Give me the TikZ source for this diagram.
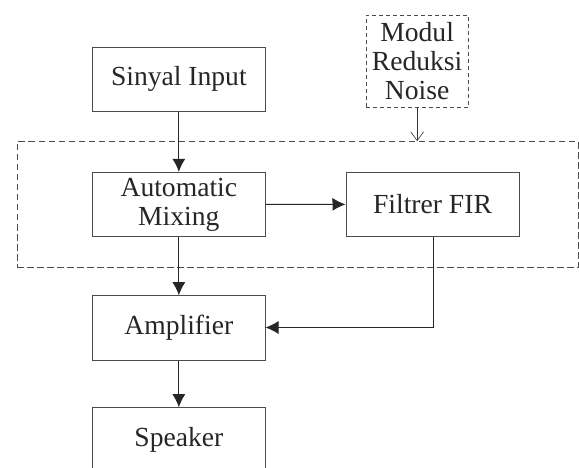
\documentclass[tikz,border=0pt]{standalone}
\usepackage{fontspec}
\setmainfont{Liberation Serif}
\usetikzlibrary{arrows.meta}
\begin{document}
\begin{tikzpicture}[x=1pt,y=-1pt,
  box/.style={draw=black!70, line width=1pt, rectangle, inner sep=0pt, text=black!85,
    align=center, font=\fontsize{27.6}{28.7}\selectfont},
  dbox/.style={box, dashed, dash pattern=on 4pt off 3pt},
  conn/.style={draw=black!85, line width=1pt, -{Latex[length=13pt,width=13pt]}},
  thinconn/.style={draw=black!80, line width=0.6pt, -{Straight Barb[length=9pt,width=13pt,line width=0.6pt]}}
]
\clip (0,0) rectangle (579,468);
\useasboundingbox (0,0) rectangle (579,468);
\fill[white] (0,0) rectangle (579,468);

\node[draw=black!70, line width=1pt, dash pattern=on 6.5pt off 3.5pt, minimum width=560.7pt, minimum height=126.3pt, inner sep=0pt] (grp) at (297.65,204.85) {};

\node[box, minimum width=172.3pt, minimum height=63.7pt] (sinyal) at (178.85,79.2) {Sinyal Input};
\node[dbox, minimum width=102.3pt, minimum height=92.3pt] (modul) at (417.15,61.2) {Modul\\Reduksi\\Noise};
\node[box, minimum width=172.3pt, minimum height=64.5pt] (am) at (178.85,204.6) {Automatic\\Mixing};
\node[box, minimum width=173pt, minimum height=64pt] (fir) at (432.5,204.3) {Filtrer FIR};
\node[box, minimum width=172.3pt, minimum height=65pt] (amp) at (178.85,328.2) {Amplifier};
\node[box, minimum width=172.3pt, minimum height=64pt] (spk) at (178.85,439.7) {Speaker};

\coordinate (fbturn) at (433.3,327.5);

\draw[conn] (sinyal) -- (am);
\draw[conn] (am) -- (fir);
\draw[conn] (am) -- (amp);
\draw[conn] (amp) -- (spk);
\draw[conn] (fir.south -| fbturn) -- (fbturn) -- (amp.east |- fbturn);
\draw[thinconn] (modul.south) -- (grp.north -| modul.south);
\end{tikzpicture}
\end{document}
